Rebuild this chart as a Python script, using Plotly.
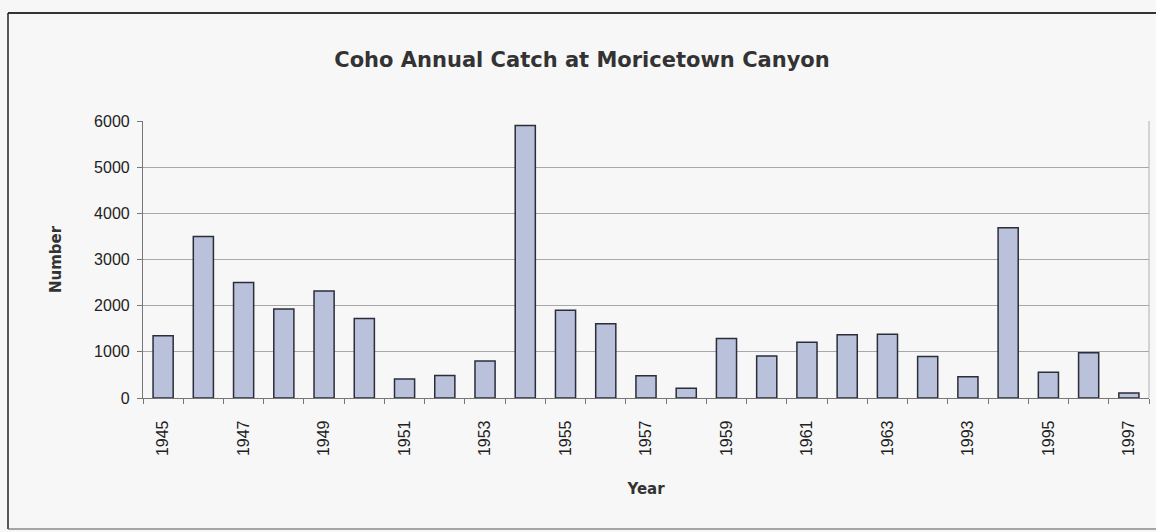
import plotly.graph_objects as go

years = ["1945", "1946", "1947", "1948", "1949", "1950", "1951", "1952", "1953",
         "1954", "1955", "1956", "1957", "1958", "1959", "1960", "1961", "1962",
         "1963", "1964", "1993", "1994", "1995", "1996", "1997"]
catch = [1350, 3500, 2500, 1930, 2320, 1720, 410, 490, 800,
         5900, 1900, 1610, 480, 210, 1290, 910, 1210, 1370,
         1380, 900, 460, 3690, 560, 980, 110]
shown_labels = years[::2]

W, H = 1156, 532
L, R, T, B = 143, 7, 121, 134
pw, ph = W - L - R, H - T - B

def px(x):
    return (x - L) / pw

def py(y):
    return (H - B - y) / ph

idx = list(range(len(years)))

fig = go.Figure()
fig.add_trace(go.Bar(
    x=idx, y=catch, width=0.5,
    marker=dict(color="#b9c1db", line=dict(color="#2b2d3a", width=1.5)),
    hovertext=years,
))

fig.update_layout(
    width=W, height=H,
    margin=dict(l=L, r=R, t=T, b=B, autoexpand=False),
    paper_bgcolor="#f7f7f7", plot_bgcolor="#f7f7f7",
    font=dict(family="Liberation Sans, Arial, sans-serif", color="#222222", size=15),
    showlegend=False,
    title=dict(text="<b>Coho Annual Catch at Moricetown Canyon</b>",
               x=px(582), xref="paper", xanchor="center",
               y=1 - 60 / H, yanchor="middle",
               font=dict(family="DejaVu Sans, sans-serif", size=21, color="#333333")),
    xaxis=dict(
        range=[-0.5, len(years) - 0.5],
        tickmode="array", tickvals=idx[::2], ticktext=shown_labels,
        tickangle=-90, ticks="", showgrid=False, zeroline=False,
        showline=True, linecolor="#777777", linewidth=1.2,
        tickfont=dict(size=16, color="#222222"),
        ticklabelstandoff=15,
        minor=dict(ticks="outside", tickmode="linear", tick0=-0.5, dtick=1,
                   ticklen=5, tickcolor="#777777", showgrid=False),
        title=dict(text="<b>Year</b>", font=dict(family="DejaVu Sans, sans-serif", size=15, color="#333333"), standoff=28),
    ),
    yaxis=dict(
        range=[0, 6000], dtick=1000, tickmode="linear",
        ticks="outside", ticklen=5, tickcolor="#777777",
        showgrid=True, gridcolor="#a8a8a8", gridwidth=1,
        zeroline=False, showline=True, linecolor="#777777", linewidth=1.2,
        tickfont=dict(size=16, color="#222222"),
        ticklabelstandoff=4,
        title=dict(text="<b>Number</b>", font=dict(family="DejaVu Sans, sans-serif", size=15, color="#333333"), standoff=28),
    ),
)

# plot-area right border
fig.add_shape(type="line", xref="paper", yref="paper", x0=1, x1=1, y0=0, y1=1,
              line=dict(color="#b0b0b0", width=1))
# outer chart frame (top, left, bottom)
fig.add_shape(type="line", xref="paper", yref="paper",
              x0=px(8), x1=px(1156), y0=py(13), y1=py(13),
              line=dict(color="#333333", width=2))
fig.add_shape(type="line", xref="paper", yref="paper",
              x0=px(8), x1=px(8), y0=py(13), y1=py(529),
              line=dict(color="#222222", width=1.5))
fig.add_shape(type="line", xref="paper", yref="paper",
              x0=px(8), x1=px(1156), y0=py(529), y1=py(529),
              line=dict(color="#555555", width=1.2))

fig.write_html("out.html", config={"displayModeBar": False},
               post_script="document.body.style.margin='0';document.body.style.overflow='hidden';")
